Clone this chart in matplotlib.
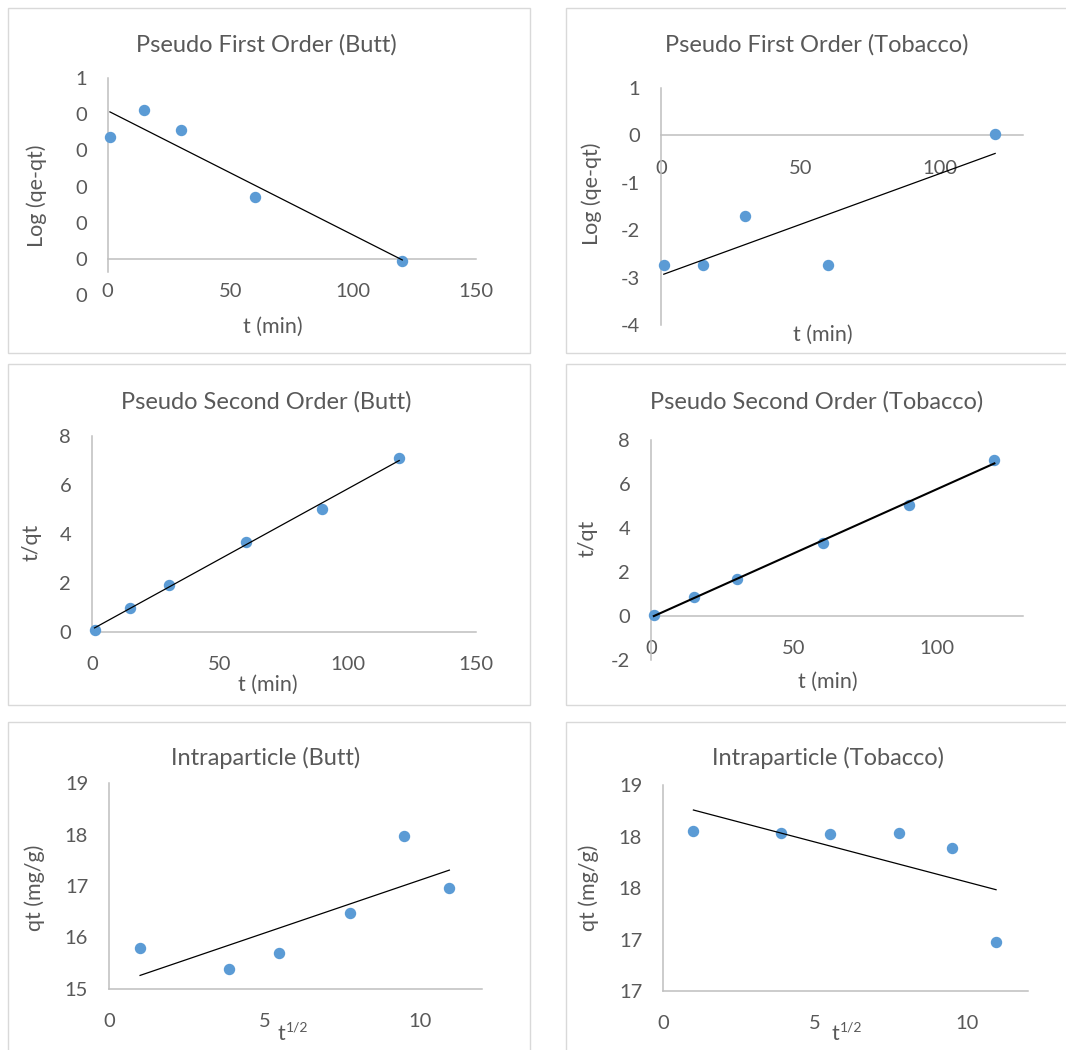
import numpy as np
import matplotlib.pyplot as plt
from matplotlib.patches import Rectangle
from matplotlib.ticker import FuncFormatter

plt.rcParams['font.family'] = ['Lato', 'DejaVu Sans']

W, H = 1066, 1050
TXT = '#595959'
AXC = '#BFBFBF'
DOT = '#5B9BD5'

# sampling times (min) and square roots of time
t_first = [1, 15, 30, 60, 120]
t_second = [1, 15, 30, 60, 90, 120]
t_sqrt = [1.0, 3.87, 5.48, 7.75, 9.49, 10.95]

pfo_butt = [0.337, 0.412, 0.356, 0.172, -0.006]
pfo_tob = [-2.74, -2.74, -1.71, -2.74, 0.02]
pso_butt = [0.08, 0.99, 1.93, 3.67, 5.03, 7.10]
pso_tob = [0.06, 0.85, 1.68, 3.33, 5.05, 7.09]
ip_butt = [15.79, 15.38, 15.69, 16.47, 17.97, 16.97]
ip_tob = [18.24, 18.23, 18.22, 18.23, 18.11, 17.38]

panels = [
    dict(title='Pseudo First Order (Butt)', ylabel='Log (qe-qt)', x=t_first, y=pfo_butt,
         box=(107.5, 78, 476, 295), xlim=(0, 150), ylim=(-0.1, 0.5),
         xticks=[0, 50, 100, 150], yticks=np.arange(-0.1, 0.51, 0.1), cross=0, vbounds=(-0.036, 0.5),
         tpos=(266, 45), ylpos=(37, 196), xlpos=(273, 327)),
    dict(title='Pseudo First Order (Tobacco)', ylabel='Log (qe-qt)', x=t_first, y=pfo_tob,
         box=(661, 88, 1023, 325), xlim=(0, 130), ylim=(-4, 1),
         xticks=[0, 50, 100], yticks=[-4, -3, -2, -1, 0, 1], cross=0, vbounds=None,
         tpos=(817, 45), ylpos=(592, 194), xlpos=(823, 335)),
    dict(title='Pseudo Second Order (Butt)', ylabel='t/qt', x=t_second, y=pso_butt,
         box=(92, 436, 476, 632), xlim=(0, 150), ylim=(0, 8),
         xticks=[0, 50, 100, 150], yticks=[0, 2, 4, 6, 8], cross=0, vbounds=None,
         tpos=(266, 402), ylpos=(32, 542), xlpos=(268, 685)),
    dict(title='Pseudo Second Order (Tobacco)', ylabel='t/qt', x=t_second, y=pso_tob,
         box=(651, 440, 1023, 660), xlim=(0, 130), ylim=(-2, 8),
         xticks=[0, 50, 100], yticks=[-2, 0, 2, 4, 6, 8], cross=0, vbounds=None,
         tpos=(817, 402), ylpos=(588, 538), xlpos=(828, 682)),
    dict(title='Intraparticle (Butt)', ylabel='qt (mg/g)', x=t_sqrt, y=ip_butt,
         box=(109, 783, 482, 989), xlim=(0, 12), ylim=(15, 19),
         xticks=[0, 5, 10], yticks=[15, 16, 17, 18, 19], cross=15, vbounds=None,
         tpos=(266, 758), ylpos=(35, 888), xlpos=(277, 1040)),
    dict(title='Intraparticle (Tobacco)', ylabel='qt (mg/g)', x=t_sqrt, y=ip_tob,
         box=(663, 785, 1028, 991), xlim=(0, 12), ylim=(17.0, 18.6),
         xticks=[0, 5, 10], yticks=[17.0, 17.4, 17.8, 18.2, 18.6], cross=17.0, vbounds=None,
         tpos=(828, 758), ylpos=(589, 888), xlpos=(831, 1040)),
]


def fmt0(v, pos):
    # Excel style "0" number format
    return '%d' % int(np.floor(v + 0.5 + 1e-9))


fig = plt.figure(figsize=(W / 100, H / 100), dpi=100)

# chart borders
for (x0, y0, x1, y1) in [(8, 8, 530, 353), (566, 8, 1080, 353), (8, 364, 530, 705),
                         (566, 364, 1080, 705), (8, 722, 530, 1070), (566, 722, 1080, 1070)]:
    fig.add_artist(Rectangle((x0 / W, 1 - y1 / H), (x1 - x0) / W, (y1 - y0) / H,
                             transform=fig.transFigure, fill=False, ec='#D9D9D9', lw=1.0))

for p in panels:
    l, t, r, b = p['box']
    ax = fig.add_axes([l / W, 1 - b / H, (r - l) / W, (b - t) / H])
    ax.set_xlim(*p['xlim'])
    ax.set_ylim(*p['ylim'])
    ax.patch.set_alpha(0)

    x = np.array(p['x'])
    y = np.array(p['y'])
    ax.plot(x, y, 'o', color=DOT, ms=7.2, mec=DOT, clip_on=False, zorder=3)
    k, c = np.polyfit(x, y, 1)
    xs = np.array([x.min(), x.max()])
    lw = 1.5 if p['title'] == 'Pseudo Second Order (Tobacco)' else 0.9
    ax.plot(xs, k * xs + c, color='black', lw=lw, zorder=4, clip_on=False)

    for s in ['top', 'right']:
        ax.spines[s].set_visible(False)
    ax.spines['left'].set_position(('data', 0))
    ax.spines['bottom'].set_position(('data', p['cross']))
    for s in ['left', 'bottom']:
        ax.spines[s].set_color(AXC)
        ax.spines[s].set_linewidth(1.1)
    if p['vbounds']:
        ax.spines['left'].set_bounds(*p['vbounds'])

    ax.set_xticks(p['xticks'])
    ax.set_yticks(p['yticks'])
    ax.yaxis.set_major_formatter(FuncFormatter(fmt0))
    ax.tick_params(length=0, labelsize=14.5, labelcolor=TXT)
    ax.tick_params(axis='y', pad=15)
    ax.tick_params(axis='x', pad=17.5)

    fig.text(p['tpos'][0] / W, 1 - p['tpos'][1] / H, p['title'], ha='center', va='center',
             fontsize=17, color=TXT)
    fig.text(p['ylpos'][0] / W, 1 - p['ylpos'][1] / H, p['ylabel'], ha='center', va='center',
             rotation=90, fontsize=15.5, color=TXT)
    xl, yl = p['xlpos']
    if p['x'] is t_sqrt:
        fig.text(xl / W, 1 - yl / H, 't', ha='left', va='baseline', fontsize=15.5, color=TXT)
        fig.text((xl + 9) / W, 1 - (yl - 8) / H, '1/2', ha='left', va='baseline',
                 fontsize=10, color=TXT)
    else:
        fig.text(xl / W, 1 - yl / H, 't (min)', ha='center', va='center', fontsize=15.5, color=TXT)

fig.savefig('out.png', dpi=100)
